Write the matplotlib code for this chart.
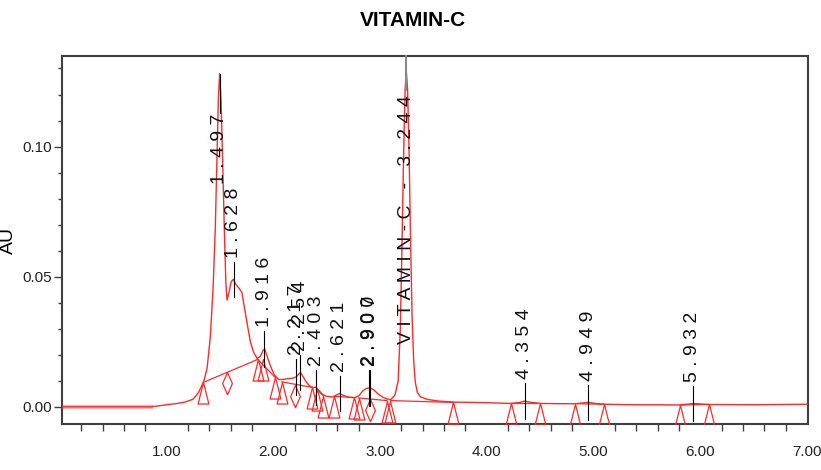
import matplotlib
matplotlib.use("Agg")
import matplotlib.pyplot as plt
from matplotlib.path import Path
from matplotlib.ticker import MultipleLocator, FixedLocator

# detector trace (minutes, AU)
time_min = [0.02, 0.50, 0.85, 0.93, 1.00, 1.10, 1.17, 1.22, 1.25, 1.30, 1.35, 1.38,
            1.41, 1.435, 1.456, 1.47, 1.485, 1.497, 1.51, 1.525, 1.541, 1.555, 1.566,
            1.585, 1.605, 1.625, 1.65, 1.68, 1.705, 1.73, 1.755, 1.785, 1.815, 1.85,
            1.88, 1.905, 1.92, 1.945, 1.975, 2.01, 2.05, 2.09, 2.13, 2.18, 2.215,
            2.235, 2.255, 2.28, 2.31, 2.34, 2.37, 2.40, 2.43, 2.46, 2.50, 2.56,
            2.595, 2.62, 2.65, 2.70, 2.76, 2.80, 2.84, 2.875, 2.905, 2.94, 2.98,
            3.03, 3.07, 3.10, 3.14, 3.17, 3.19, 3.205, 3.22, 3.235, 3.246, 3.258,
            3.272, 3.287, 3.30, 3.315, 3.33, 3.35, 3.38, 3.45, 3.55, 3.70, 4.00,
            4.22, 4.30, 4.354, 4.42, 4.50, 4.70, 4.83, 4.90, 4.949, 5.02, 5.10,
            5.37, 5.60, 5.81, 5.88, 5.932, 6.00, 6.08, 6.50, 7.01]
au = [0.0, 0.0, 0.0, 0.0004, 0.0008, 0.0013, 0.0018, 0.0025, 0.003, 0.0055, 0.010, 0.015,
      0.027, 0.045, 0.068, 0.092, 0.118, 0.128, 0.118, 0.095, 0.068, 0.048, 0.041,
      0.044, 0.048, 0.049, 0.047, 0.0455, 0.044, 0.038, 0.032, 0.025, 0.021, 0.0185,
      0.0195, 0.0218, 0.0222, 0.019, 0.0155, 0.0122, 0.0105, 0.0105, 0.0108, 0.011, 0.0115,
      0.0125, 0.0132, 0.0115, 0.0095, 0.008, 0.0074, 0.0075, 0.0062, 0.0048, 0.0040, 0.0038,
      0.0046, 0.0051, 0.0045, 0.0037, 0.0035, 0.0042, 0.0062, 0.0071, 0.0073, 0.0066, 0.0050,
      0.0036, 0.0030, 0.0028, 0.0045, 0.010, 0.030, 0.060, 0.095, 0.122, 0.129, 0.122,
      0.098, 0.062, 0.035, 0.018, 0.0095, 0.0055, 0.0038, 0.0028, 0.0022, 0.0018, 0.0016,
      0.0013, 0.0016, 0.0022, 0.0017, 0.0013, 0.0012, 0.0012, 0.0015, 0.0017, 0.0013, 0.0010,
      0.0008, 0.0008, 0.0007, 0.0010, 0.0013, 0.0011, 0.0009, 0.0008, 0.0010]

# peak table
peak_rt = [1.497, 1.628, 1.916, 2.217, 2.254, 2.403, 2.621, 2.900, 2.907, 3.244, 4.354, 4.949, 5.932]
peak_au = [0.128, 0.049, 0.0222, 0.0115, 0.0132, 0.0075, 0.0051, 0.0073, 0.0073, 0.129, 0.0022, 0.0017, 0.0013]
peak_name = ["", "", "", "", "", "", "", "", "", "VITAMIN-C", "", "", ""]

# integration marks (start/end triangles, drop-line diamonds)
tri_rt = [1.345, 1.853, 1.900, 2.019, 2.080, 2.360, 2.405, 2.470, 2.565, 2.753, 2.800,
          3.065, 3.097, 3.680, 4.230, 4.500, 4.830, 5.100, 5.810, 6.080]
tri_au = [0.0094, 0.0182, 0.0182, 0.0113, 0.0096, 0.0075, 0.0068, 0.0042, 0.0040, 0.0036, 0.0034,
          0.0024, 0.0024, 0.0017, 0.0013, 0.0013, 0.0012, 0.0010, 0.0007, 0.0009]
dia_rt = [1.565, 2.206, 2.903]
dia_au = [0.0133, 0.0083, 0.0031]

# baselines drawn under the peaks
bl_x0 = [1.345, 1.853, 2.080, 2.405, 2.565, 2.800, 3.097, 4.230, 4.830, 5.810]
bl_y0 = [0.0094, 0.0182, 0.0096, 0.0068, 0.0040, 0.0034, 0.0024, 0.0013, 0.0012, 0.0007]
bl_x1 = [1.853, 2.019, 2.360, 2.470, 2.753, 3.065, 3.680, 4.500, 5.100, 6.080]
bl_y1 = [0.0182, 0.0113, 0.0075, 0.0042, 0.0036, 0.0024, 0.0017, 0.0013, 0.0010, 0.0009]

RED = "#ff2a2a"
GREY = "#404040"
NARROW = ["Liberation Sans Narrow", "Liberation Sans", "DejaVu Sans"]
ARIAL = ["Liberation Sans", "DejaVu Sans"]

fig = plt.figure(figsize=(8.21, 4.70), dpi=100)
ax = fig.add_axes([62 / 821, 46 / 470, 746 / 821, 368 / 470])
ax.set_xlim(0.02, 7.01)
ax.set_ylim(-0.0066, 0.1348)

# wide faint band under the flat start of the trace
ax.plot(time_min[:3], au[:3], color="#ffb0b0", lw=3, zorder=2)
ax.plot(time_min, au, color=RED, lw=1.0, zorder=3)

for x0, y0, x1, y1 in zip(bl_x0, bl_y0, bl_x1, bl_y1):
    ax.plot([x0, x1], [y0, y1], color=RED, lw=0.9, zorder=3)

tri = Path([(0, 0), (0.25, -1), (-0.25, -1), (0, 0)])
dia = Path([(0, 0), (0.22, -0.5), (0, -1), (-0.22, -0.5), (0, 0)])
ax.plot(tri_rt, tri_au, ls="none", marker=tri, ms=31, mfc="none", mec=RED, mew=0.9, zorder=3)
ax.plot(dia_rt, dia_au, ls="none", marker=dia, ms=32, mfc="none", mec=RED, mew=0.9, zorder=3)

# peak annotations
for rt, h, name in zip(peak_rt, peak_au, peak_name):
    txt = f"{rt:.3f}" if not name else f"{name} - {rt:.3f}"
    txt = " ".join(txt)
    kw = dict(rotation=90, ha="center", fontsize=14, family=ARIAL, color="#111111", zorder=5)
    if h > 0.1 and name:
        ax.plot([rt, rt], [0.1217, 0.1348], color="#888888", lw=1.5, zorder=4, clip_on=False)
        ax.text(rt, 0.1198, txt, va="top", **kw)
    elif h > 0.1:
        ax.plot([rt, rt], [0.1129, h], color="black", lw=0.8, zorder=4)
        ax.text(rt, 0.1125, txt, va="top", **kw)
    else:
        ax.plot([rt, rt], [h - 0.0068, h + 0.0068], color="black", lw=0.8, zorder=4)
        ax.text(rt, h + 0.0083, txt, va="bottom", **kw)

# axes styling
for s in ax.spines.values():
    s.set_color(GREY)
    s.set_linewidth(1.5)

ax.xaxis.set_major_locator(FixedLocator([1, 2, 3, 4, 5, 6, 7]))
ax.xaxis.set_minor_locator(MultipleLocator(0.2))
ax.set_xticklabels(["1.00", "2.00", "3.00", "4.00", "5.00", "6.00", "7.00"])
ax.yaxis.set_major_locator(FixedLocator([0.0, 0.05, 0.10]))
ax.yaxis.set_minor_locator(MultipleLocator(0.01))
ax.set_yticklabels(["0.00", "0.05", "0.10"])

ax.tick_params(axis="x", which="major", length=0, pad=15, labelsize=11, colors=GREY, labelcolor="#222222")
ax.tick_params(axis="x", which="minor", length=5, width=1, colors=GREY)
ax.tick_params(axis="y", which="major", length=6, width=1, pad=1, labelsize=11, colors=GREY, labelcolor="#222222")
ax.tick_params(axis="y", which="minor", length=3, width=1, colors=GREY)
for lab in ax.get_xticklabels() + ax.get_yticklabels():
    lab.set_family(NARROW)

ax.set_ylabel("AU", fontsize=14, family=ARIAL)
ax.yaxis.set_label_coords(-45 / 746, 0.5)

fig.text(413 / 821, 1 - 21 / 470, "VITAMIN-C", ha="center", va="center",
         fontsize=15, fontweight="bold", family=NARROW)

fig.savefig("out.png", dpi=100)
